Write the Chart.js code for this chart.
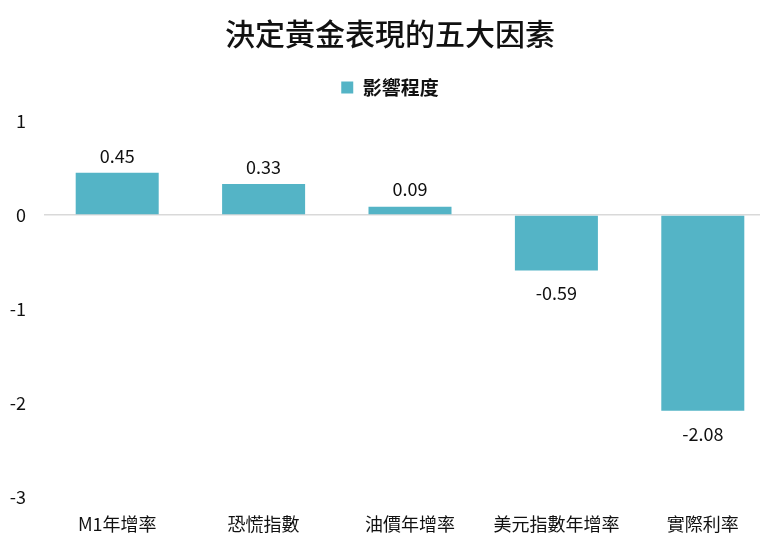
<!DOCTYPE html>
<html>
<head>
<meta charset="utf-8">
<script src="https://cdn.jsdelivr.net/npm/chart.js@4/dist/chart.umd.min.js"></script>
<style>
  html, body { margin: 0; padding: 0; background: #fff; overflow: hidden; }
  #wrap { width: 760px; height: 549px; overflow: hidden; }
</style>
</head>
<body>
<div id="wrap"><canvas id="goldChart" width="782" height="549"></canvas></div>
<script>
// chart data
var factors = ["M1年增率", "恐慌指數", "油價年增率", "美元指數年增率", "實際利率"];
var impact = [0.45, 0.33, 0.09, -0.59, -2.08];
var yTicks = [1, 0, -1, -2, -3];

var barColor = "#54B4C6";
var fontFam = "'Noto Sans CJK TC', 'Noto Sans', sans-serif";

// draws the value above (or below for negatives) each bar
var valueLabels = {
  id: "valueLabels",
  afterDatasetsDraw: function(chart) {
    var ctx = chart.ctx;
    var meta = chart.getDatasetMeta(0);
    ctx.save();
    ctx.font = "18px " + fontFam;
    ctx.fillStyle = "#111";
    ctx.textAlign = "center";
    meta.data.forEach(function(bar, i) {
      var v = impact[i];
      if (v >= 0) {
        ctx.textBaseline = "bottom";
        ctx.fillText(v.toFixed(2), bar.x, bar.y - 8);
      } else {
        ctx.textBaseline = "top";
        ctx.fillText(v.toFixed(2), bar.x, bar.y + 14);
      }
    });
    ctx.restore();
  }
};

var ctx = document.getElementById("goldChart").getContext("2d");

var goldChart = new Chart(ctx, {
  type: "bar",
  data: {
    labels: factors,
    datasets: [{
      label: "影響程度",
      data: impact,
      backgroundColor: barColor,
      barPercentage: 0.567,
      categoryPercentage: 1
    }]
  },
  options: {
    responsive: false,
    animation: false,
    layout: { padding: { top: 16, left: 4, right: 6, bottom: -2 } },
    plugins: {
      title: {
        display: true,
        text: "決定黃金表現的五大因素",
        color: "#111",
        font: { family: fontFam, size: 30, weight: "500" },
        padding: { top: 0, bottom: 2 }
      },
      legend: {
        display: true,
        labels: {
          boxWidth: 12,
          boxHeight: 12,
          padding: 24,
          color: "#111",
          font: { family: fontFam, size: 19, weight: "700" }
        }
      },
      tooltip: { enabled: false }
    },
    scales: {
      x: {
        grid: { display: false, drawTicks: false },
        border: { display: false },
        ticks: {
          color: "#111",
          padding: 16,
          font: { family: fontFam, size: 18 }
        }
      },
      // empty spacer above the plot, leaves a gap under the legend
      gap: {
        type: "category",
        position: "top",
        grid: { display: false, drawTicks: false },
        border: { display: false },
        ticks: { display: false },
        afterFit: function(axis) {
          axis.height = 14;
        }
      },
      y: {
        min: -3,
        max: 1,
        afterBuildTicks: function(axis) {
          axis.ticks = yTicks.map(function(v) { return { value: v }; });
        },
        afterFit: function(axis) {
          axis.width = 40;
        },
        grid: {
          drawTicks: false,
          color: function(c) { return c.tick && c.tick.value === 0 ? "#d9d9d9" : "rgba(0,0,0,0)"; },
          lineWidth: 1.5
        },
        border: { display: false },
        ticks: {
          color: "#111",
          padding: 18,
          font: { family: fontFam, size: 18 }
        }
      }
    }
  },
  plugins: [valueLabels]
});
</script>
</body>
</html>
